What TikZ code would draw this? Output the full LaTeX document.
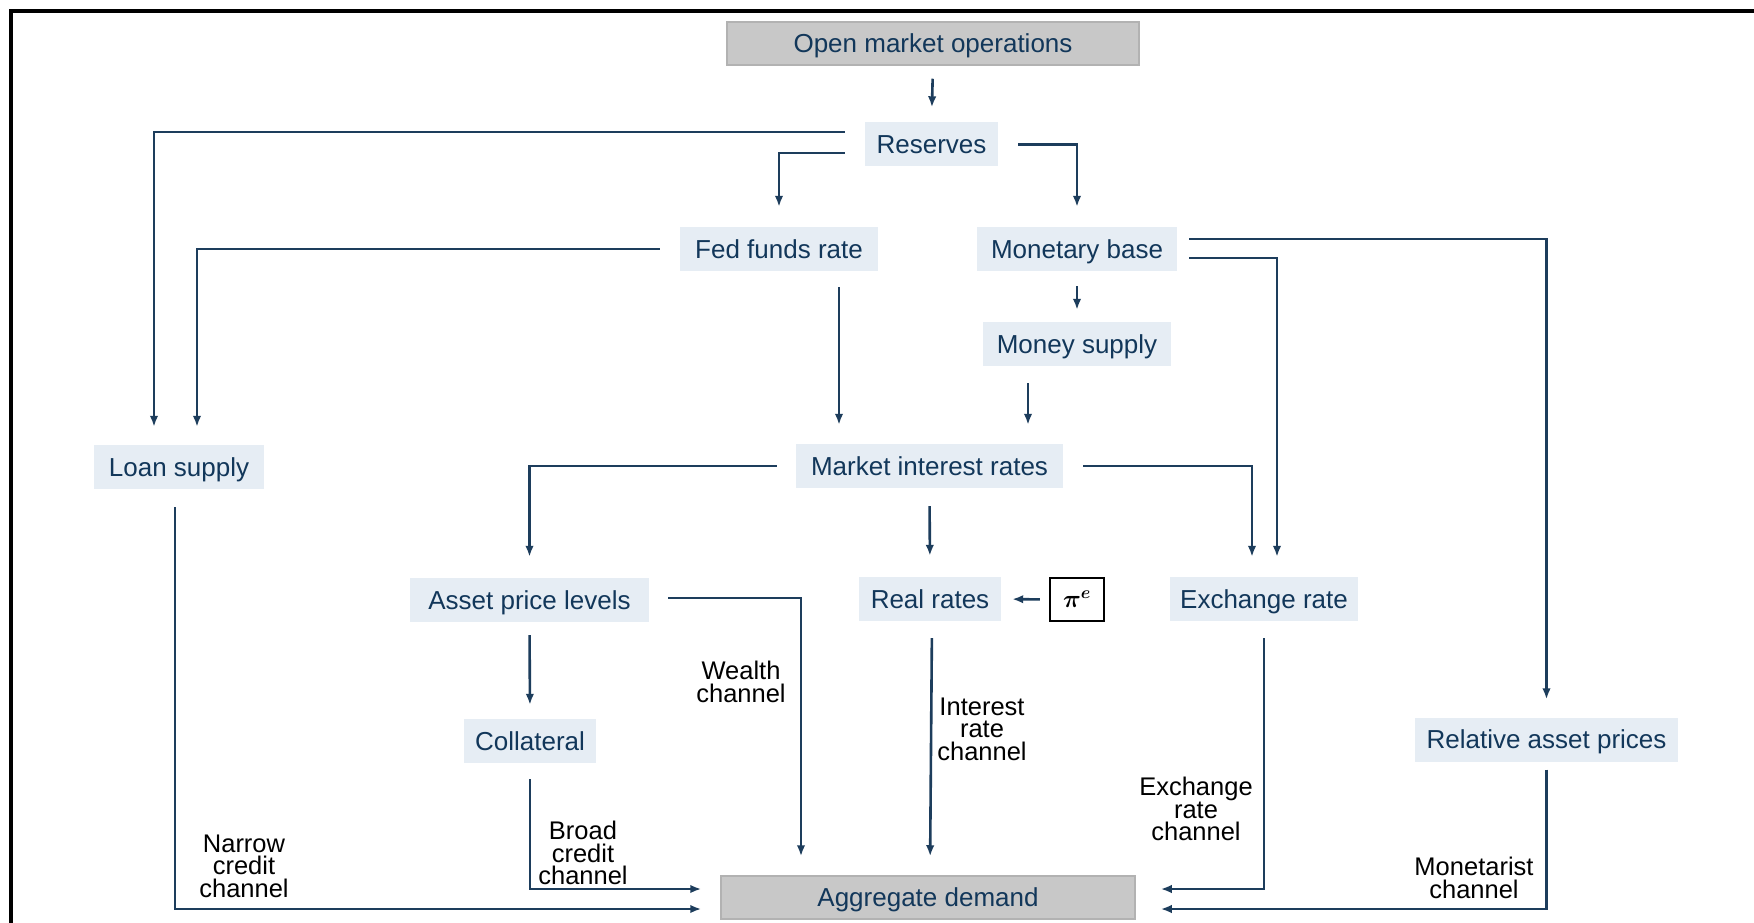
\documentclass[tikz,border=0pt]{standalone}
\usepackage{amsmath}
\usepackage{fontspec}
\setmainfont{Liberation Sans}
\usetikzlibrary{arrows.meta,calc}
\definecolor{navy}{HTML}{12375A}
\definecolor{lnc}{HTML}{1D3D5C}
\definecolor{boxblue}{HTML}{E6EDF4}
\definecolor{boxgrey}{HTML}{C8C8C8}
\definecolor{greyline}{HTML}{B2B2B2}
\begin{document}
\begin{tikzpicture}[x=1pt,y=-1pt,
  bx/.style={fill=boxblue, draw=none, text=navy, inner sep=0pt,
    font=\fontsize{26}{30}\selectfont, minimum height=44pt, text height=18.6pt, text depth=0pt},
  gbx/.style={fill=boxgrey, draw=greyline, line width=1.5pt, text=navy, inner sep=0pt,
    font=\fontsize{26}{30}\selectfont, minimum height=43pt, text height=18.6pt, text depth=0pt},
  lab/.style={align=center, text=black, inner sep=0pt, font=\fontsize{25.5}{22.5}\selectfont},
  arr/.style={draw=lnc, line width=2.6pt, -{Latex[length=11pt,width=8.5pt]}}
]
\useasboundingbox (0,0) rectangle (1754,923);
\fill[white] (0,0) rectangle (1754,923);
% frame
\draw[black, line width=3.6pt] (11,923) -- (11,11) -- (1754,11);

% nodes
\node[gbx, minimum width=412pt] (omo) at (933,43.5) {Open market operations};
\node[bx, minimum width=133pt] (res) at (931.5,144.5) {Reserves};
\node[bx, minimum width=198pt] (ffr) at (779,249) {Fed funds rate};
\node[bx, minimum width=200pt] (mb) at (1077,249) {Monetary base};
\node[bx, minimum width=188pt] (ms) at (1077,344) {Money supply};
\node[bx, minimum width=170pt] (ls) at (179,467) {Loan supply};
\node[bx, minimum width=267pt] (mir) at (929.5,466) {Market interest rates};
\node[bx, minimum width=239pt] (apl) at (529.5,600) {Asset price levels};
\node[bx, minimum width=142pt] (rr) at (930,599) {Real rates};
\node[draw=black, fill=white, line width=2.4pt, minimum width=54pt, minimum height=43pt, inner sep=0pt,
  font=\fontsize{27}{30}\selectfont] (pie) at (1077,599.5) {$\boldsymbol{\pi^e}$};
\node[bx, minimum width=188pt] (er) at (1264,599) {Exchange rate};
\node[bx, minimum width=132pt] (col) at (530,741) {Collateral};
\node[bx, minimum width=263pt] (rap) at (1546.5,739.5) {Relative asset prices};
\node[gbx, minimum width=414pt] (ad) at (928,897.5) {Aggregate demand};

% labels
\node[lab] (lw) at (741,682) {Wealth\\channel};
\node[lab] (li) at (982,729) {Interest\\rate\\channel};
\node[lab] (le) at (1196,809) {Exchange\\rate\\channel};
\node[lab] (ln) at (244,866) {Narrow\\credit\\channel};
\node[lab] (lb) at (583,853) {Broad\\credit\\channel};
\node[lab] (lm) at (1474,878) {Monetarist\\channel};

% connectors
\draw[arr, shorten <=13pt, shorten >=15pt] (omo.south) -- (res.north);
\draw[arr, shorten <=20pt, shorten >=18pt] ([yshift=12.5pt]res.west) -| ([xshift=-25pt]ls.north);
\draw[arr, shorten <=20pt, shorten >=20pt] ([yshift=-8.5pt]res.west) -| (ffr.north);
\draw[arr, shorten <=20pt, shorten >=20pt] (res.east) -| (mb.north);
\draw[arr, shorten <=20pt, shorten >=18pt] (ffr.west) -| ([xshift=18pt]ls.north);
\draw[arr, shorten <=16pt, shorten >=19pt] ([xshift=60pt]ffr.south) -- ([xshift=-90.5pt]mir.north);
\draw[arr, shorten <=15pt, shorten >=12pt] (mb.south) -- (ms.north);
\draw[arr, shorten <=12pt, shorten >=18pt] ([yshift=10pt]mb.east) -| (rap.north);
\draw[arr, shorten <=12pt, shorten >=20pt] ([yshift=-9pt]mb.east) -| ([xshift=13pt]er.north);
\draw[arr, shorten <=17pt, shorten >=19pt] ([xshift=-49pt]ms.south) -- ([xshift=98.5pt]mir.north);
\draw[arr, shorten <=19pt, shorten >=21pt] (mir.west) -| (apl.north);
\draw[arr, shorten <=18pt, shorten >=21pt] (mir.south) -- (rr.north);
\draw[arr, shorten <=20pt, shorten >=20pt] (mir.east) -| ([xshift=-12pt]er.north);
\draw[arr, shorten <=9pt, shorten >=11pt] (pie.west) -- (rr.east);
\draw[arr, shorten <=18pt, shorten >=19pt] ([xshift=-4pt]ls.south) |- ([yshift=-11.5pt]ad.west);
\draw[arr, shorten <=13pt, shorten >=14pt] (apl.south) -- (col.north);
\draw[arr, shorten <=19pt, shorten >=19pt] ([yshift=2pt]apl.east) -| ([xshift=-127pt]ad.north);
\draw[arr, shorten <=16pt, shorten >=19pt] (col.south) |- ([yshift=8.5pt]ad.west);
\draw[arr, shorten <=17pt, shorten >=19pt] ([xshift=2pt]rr.south) -- ([xshift=2pt]ad.north);
\draw[arr, shorten <=17pt, shorten >=25pt] (er.south) |- ([yshift=8.5pt]ad.east);
\draw[arr, shorten <=8pt, shorten >=25pt] (rap.south) |- ([yshift=-11.5pt]ad.east);
\end{tikzpicture}
\end{document}
